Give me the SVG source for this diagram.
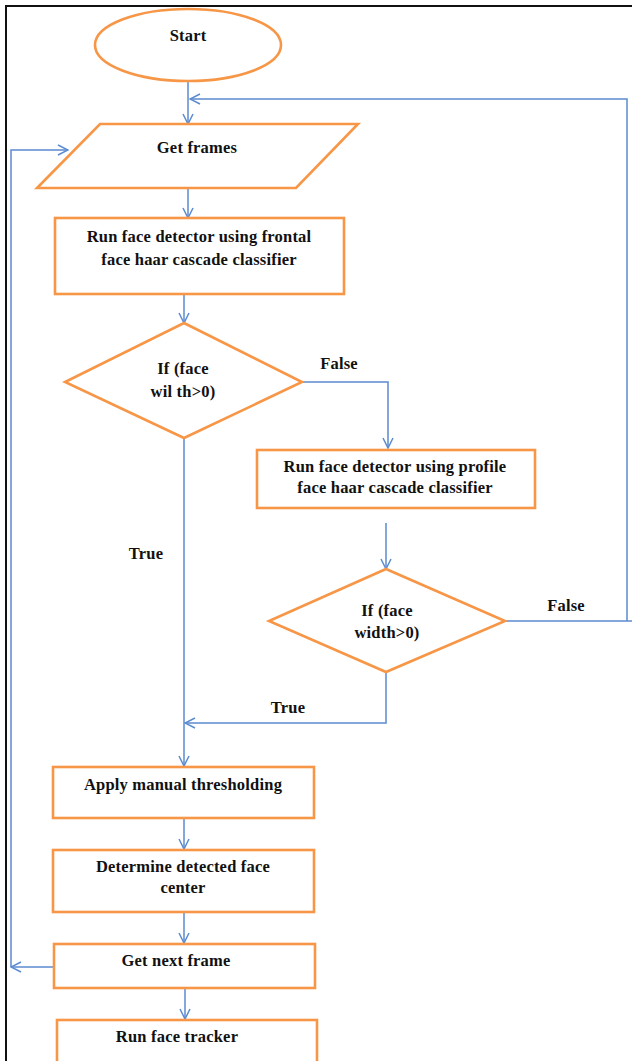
<svg xmlns="http://www.w3.org/2000/svg" width="632" height="1061" viewBox="0 0 632 1061">
<style>
.n{fill:#fff;stroke:#F79646;stroke-width:2.6}
.c{fill:none;stroke:#5B8BD0;stroke-width:1.5}
.t{font-family:"Liberation Serif",serif;font-weight:bold;font-size:16.5px;letter-spacing:0.2px;fill:#111;text-anchor:middle}
</style>
<defs>
<marker id="a" viewBox="0 0 12 12" refX="11" refY="6" markerWidth="12" markerHeight="12" markerUnits="userSpaceOnUse" orient="auto">
<path d="M1,1 L11,6 L1,11" fill="none" stroke="#5B8BD0" stroke-width="1.5"/>
</marker>
</defs>
<rect width="632" height="1061" fill="#fff"/>
<path d="M6,1061 V6 H632" fill="none" stroke="#111" stroke-width="2"/>
<g id="connectors">
<path class="c" d="M188,81 V124" marker-end="url(#a)"/>
<path class="c" d="M505,621 H632"/>
<path class="c" d="M627,621 V99 H190" marker-end="url(#a)"/>
<path class="c" d="M188,188 V218" marker-end="url(#a)"/>
<path class="c" d="M184,294 V323" marker-end="url(#a)"/>
<path class="c" d="M302,382 H388 V448" marker-end="url(#a)"/>
<path class="c" d="M386,523 V569" marker-end="url(#a)"/>
<path class="c" d="M386,672 V723 H185" marker-end="url(#a)"/>
<path class="c" d="M184,438 V766" marker-end="url(#a)"/>
<path class="c" d="M184,818 V849" marker-end="url(#a)"/>
<path class="c" d="M184,912 V943" marker-end="url(#a)"/>
<path class="c" d="M185,988 V1019" marker-end="url(#a)"/>
<path class="c" d="M54,967 H11" marker-end="url(#a)"/>
<path class="c" d="M11,967 V150 H68" marker-end="url(#a)"/>
<text class="t" x="339" y="369">False</text>
<text class="t" x="146" y="559">True</text>
<text class="t" x="566" y="611">False</text>
<text class="t" x="288" y="713">True</text>
</g>
<g id="start">
<ellipse class="n" cx="188" cy="45" rx="93" ry="36"/>
<text class="t" x="188" y="41">Start</text>
</g>
<g id="get-frames">
<polygon class="n" points="100,124 358,124 296,188 37,188"/>
<text class="t" x="197" y="153">Get frames</text>
</g>
<g id="frontal">
<rect class="n" x="55" y="218" width="289" height="76"/>
<text class="t" x="199" y="242">Run face detector using frontal</text>
<text class="t" x="199" y="265">face haar cascade classifier</text>
</g>
<g id="decision1">
<polygon class="n" points="184,323 302,382 184,438 65,382"/>
<text class="t" x="183" y="374">If (face</text>
<text class="t" x="183" y="397">wil th&gt;0)</text>
</g>
<g id="profile">
<rect class="n" x="257" y="450" width="278" height="58"/>
<text class="t" x="395" y="472">Run face detector using profile</text>
<text class="t" x="395" y="493">face haar cascade classifier</text>
</g>
<g id="decision2">
<polygon class="n" points="386,569 505,621 386,672 269,621"/>
<text class="t" x="387" y="616">If (face</text>
<text class="t" x="387" y="638">width&gt;0)</text>
</g>
<g id="threshold">
<rect class="n" x="53" y="767" width="261" height="51"/>
<text class="t" x="183" y="790">Apply manual thresholding</text>
</g>
<g id="center">
<rect class="n" x="53" y="850" width="261" height="62"/>
<text class="t" x="183" y="872">Determine detected face</text>
<text class="t" x="183" y="893">center</text>
</g>
<g id="next-frame">
<rect class="n" x="54" y="944" width="261" height="44"/>
<text class="t" x="176" y="966">Get next frame</text>
</g>
<g id="tracker">
<rect class="n" x="57" y="1020" width="260" height="60"/>
<text class="t" x="177" y="1042">Run face tracker</text>
</g>
</svg>
